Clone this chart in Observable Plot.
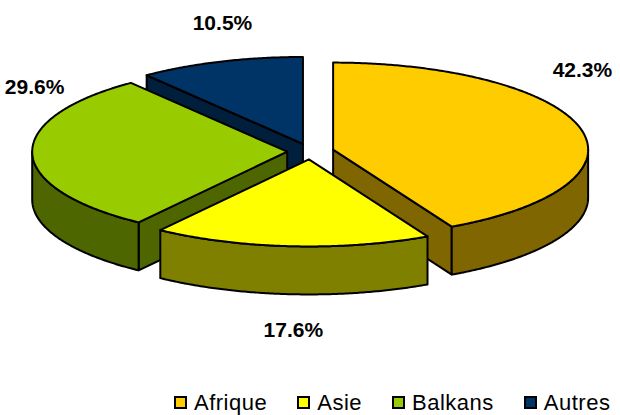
<!DOCTYPE html>
<html>
<head>
<meta charset="utf-8">
<script src="https://cdn.jsdelivr.net/npm/d3@7"></script>
<script src="https://cdn.jsdelivr.net/npm/@observablehq/plot@0.6"></script>
<style>
  body { margin: 0; background: #fff; font-family: "Liberation Sans", Arial, sans-serif; }
  #chart svg { display: block; }
  #legend { display: flex; align-items: center; height: 35px; padding-left: 174px; padding-top: 10px; box-sizing: border-box; line-height: 22px; font-size: 22px; letter-spacing: 0.5px; color: #000; white-space: nowrap; }
  .item { display: flex; align-items: center; margin-right: 30px; }
  .sw { width: 13px; height: 13px; border: 2px solid #000; box-sizing: border-box; margin-right: 7px; }
</style>
</head>
<body>
<div id="chart"></div>
<div id="legend"></div>
<script>
// ---- data ----
const categories = ["Afrique", "Asie", "Balkans", "Autres"];
const shares = [42.3, 17.6, 29.6, 10.5];
const labels = ["42.3%", "17.6%", "29.6%", "10.5%"];
const topColors = ["#FFCC00", "#FFFF00", "#99CC00", "#003366"];
const sideColors = ["#806600", "#808000", "#4D6600", "#001F3D"];

// ---- layout (pixels) ----
const W = 620, H = 380;
const CX = 310, CY = 151, RX = 255, RY = 87;
const DEPTH = 48 / RY;        // thickness, in y-units
const EXPLODE = 23.3 / RX;    // explosion distance, in unit radius

const total = d3.sum(shares);
let acc = 0;
const slices = shares.map((v, i) => {
  const a0 = acc / total * 2 * Math.PI;
  acc += v;
  const a1 = acc / total * 2 * Math.PI;
  const mid = (a0 + a1) / 2;
  return {
    i, name: categories[i], a0, a1, mid,
    ox: EXPLODE * Math.sin(mid),
    oy: EXPLODE * Math.cos(mid)
  };
});

const STEP = Math.PI / 360;
function arcPts(s, from, to, z) {
  const pts = [];
  const n = Math.max(2, Math.ceil(Math.abs(to - from) / STEP));
  for (let k = 0; k <= n; k++) {
    const t = from + (to - from) * k / n;
    pts.push({x: s.ox + Math.sin(t), y: s.oy + Math.cos(t) - z});
  }
  return pts;
}
function apex(s, z) { return {x: s.ox, y: s.oy - z}; }
function close(pts) { return pts.concat([pts[0]]); }

function topFace(s) {
  return close([apex(s, 0), ...arcPts(s, s.a0, s.a1, 0)]);
}
function radialFace(s, t) {
  const p = {x: s.ox + Math.sin(t), y: s.oy + Math.cos(t)};
  return close([apex(s, 0), p, {x: p.x, y: p.y - DEPTH}, apex(s, DEPTH)]);
}
function outerFace(s) {
  const from = Math.max(s.a0, Math.PI / 2), to = Math.min(s.a1, 3 * Math.PI / 2);
  if (to <= from) return null;
  return close([...arcPts(s, from, to, 0), ...arcPts(s, to, from, DEPTH)]);
}

// drawing order: back-most first
const order = slices.slice().sort((a, b) => Math.cos(b.mid) - Math.cos(a.mid));

const lineStyle = {x: "x", y: "y", stroke: "#000", strokeWidth: 2, strokeLinejoin: "round", curve: "linear"};
const marks = [];
for (const s of order) {
  const side = sideColors[s.i], top = topColors[s.i];
  // start face visible when sin(a0) < 0, end face visible when sin(a1) > 0
  if (Math.sin(s.a0) < -1e-6) marks.push(Plot.line(radialFace(s, s.a0), {...lineStyle, fill: side}));
  if (Math.sin(s.a1) > 1e-6) marks.push(Plot.line(radialFace(s, s.a1), {...lineStyle, fill: side}));
  const of = outerFace(s);
  if (of) marks.push(Plot.line(of, {...lineStyle, fill: side}));
  marks.push(Plot.line(topFace(s), {...lineStyle, fill: top}));
}

// percentage labels
const labelData = slices.map(s => {
  const c = Math.cos(s.mid), sn = Math.sin(s.mid);
  const x = (2 + 278 * sn) / RX;
  const y = c > -0.5 ? (66.5 * c + 65.6) / RY : (179.4 * c) / RY;
  return {x, y, text: labels[s.i]};
});
marks.push(Plot.text(labelData, {
  x: "x", y: "y", text: "text", fill: "#000",
  fontSize: 21, fontWeight: "bold", fontFamily: "Liberation Sans, Arial, sans-serif",
  textAnchor: "middle", lineAnchor: "middle"
}));

const chart = Plot.plot({
  width: W, height: H, margin: 0,
  x: {domain: [-CX / RX, (W - CX) / RX], range: [0, W], axis: null},
  y: {domain: [(CY - H) / RY, CY / RY], range: [H, 0], axis: null},
  style: {background: "#fff", overflow: "visible"},
  marks
});
document.getElementById("chart").appendChild(chart);

// legend
const legend = document.getElementById("legend");
categories.forEach((c, i) => {
  const item = document.createElement("div");
  item.className = "item";
  const sw = document.createElement("span");
  sw.className = "sw";
  sw.style.background = topColors[i];
  const t = document.createElement("span");
  t.textContent = c;
  item.appendChild(sw);
  item.appendChild(t);
  legend.appendChild(item);
});
</script>
</body>
</html>
